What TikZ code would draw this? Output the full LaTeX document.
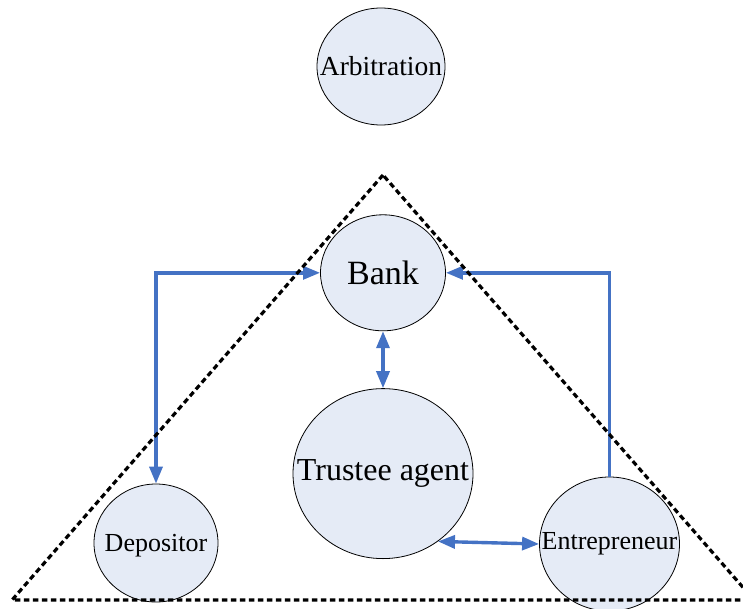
\documentclass[tikz,border=0pt]{standalone}
\usepackage{fontspec}
\setmainfont{Liberation Serif}
\usetikzlibrary{positioning, arrows.meta, shapes.geometric}
\definecolor{partyfill}{RGB}{229,235,246}
\definecolor{linkblue}{RGB}{68,114,196}

\begin{document}
\begin{tikzpicture}[x=1pt, y=-1pt]

	\tikzstyle{party}=[ellipse, draw=black, line width=0.8pt, fill=partyfill, inner sep=0];
	\tikzstyle{link}=[draw=linkblue, line width=3.4pt, >={Triangle[length=17pt, width=13pt]}];
	\tikzstyle{border}=[draw=black, line width=3.2pt, dash pattern=on 5.5pt off 3.5pt];

	\useasboundingbox (0,0) rectangle (743,608);

	\node (arb) [party, minimum width=128pt, minimum height=117pt] at (381,66.5) {};
	\node (arb label) at (arb) {\fontsize{27.5}{30}\selectfont Arbitration};

	\node (bank) [party, minimum width=125pt, minimum height=116pt, below=89pt of arb, xshift=2pt] {};
	\node (bank label) at (bank) {\fontsize{34}{38}\selectfont Bank};

	\node (trustee) [party, minimum width=180pt, minimum height=170pt, below=57pt of bank] {};
	\node (trustee label) at (trustee) {\fontsize{32}{36}\selectfont Trustee agent};

	\node (dep) [party, minimum width=124pt, minimum height=118pt] at (156,543) {};
	\node (dep label) [yshift=-3pt] at (dep) {\fontsize{26}{29}\selectfont Depositor};

	\node (ent) [party, minimum width=140pt, minimum height=134pt] at (609.5,544) {};
	\node (ent label) at (ent) {\fontsize{26}{29}\selectfont Entrepreneur};

	\draw [link, <->] (bank.west) -| (dep.north);
	\draw [link, ->] (ent.north) |- (bank.east);
	\draw [link, <->] (bank.south) -- (trustee.north);
	\draw [link, <->] (trustee.-51) -- (ent.west);

	% dotted triangle round the parties
	\coordinate (apex) at (383,175);
	\coordinate (left corner) at (12,600);
	\coordinate (right corner) at (754,600);
	\draw [border] (apex) -- (left corner) -- (right corner) -- cycle;

\end{tikzpicture}
\end{document}
